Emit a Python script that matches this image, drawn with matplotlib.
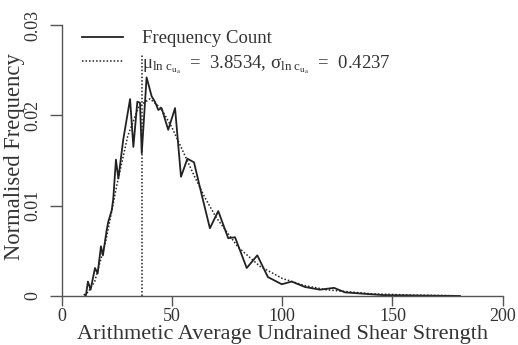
import matplotlib
matplotlib.use("Agg")
import matplotlib.pyplot as plt
from matplotlib.lines import Line2D

plt.rcParams['font.family'] = ['Liberation Serif', 'DejaVu Serif']
plt.rcParams['mathtext.fontset'] = 'custom'
plt.rcParams['mathtext.rm'] = 'Liberation Serif'
plt.rcParams['mathtext.it'] = 'Liberation Serif:italic'
plt.rcParams['mathtext.bf'] = 'Liberation Serif:bold'

# Frequency count
freq_x = [10.6, 11.0, 11.9, 13.1, 15.1, 16.3, 17.8, 18.7, 20.4, 21.1, 22.7, 23.4,
          24.6, 25.7, 27.9, 31.0, 32.5, 34.3, 35.5, 36.3, 38.5, 40.8, 42.3, 43.8,
          45.3, 48.3, 51.4, 54.1, 57.0, 60.0, 63.2, 67.2, 71.0, 75.5, 78.6, 83.9,
          88.7, 93.5, 99.8, 104.3, 110.3, 117.1, 123.5, 128.5, 145.7, 162.5, 180.6]
freq_y = [0.0, 0.0001, 0.0016, 0.0007, 0.0031, 0.0025, 0.0055, 0.0045, 0.0073, 0.0082,
          0.0095, 0.0108, 0.0151, 0.0130, 0.0173, 0.0218, 0.0165, 0.0215, 0.0214, 0.0158,
          0.0242, 0.0221, 0.0215, 0.0206, 0.0208, 0.0184, 0.0208, 0.0132, 0.0152, 0.0148,
          0.0115, 0.0075, 0.0094, 0.0064, 0.0065, 0.0031, 0.0045, 0.0021, 0.0013, 0.0016,
          0.0010, 0.0007, 0.0009, 0.0004, 0.0001, 0.00005, 0.0]

# Fitted lognormal
fit_x = [10, 12, 15, 20, 25, 30, 35, 40, 45, 50, 55, 60, 65, 70, 80, 90, 100,
         110, 120, 140, 160, 180]
fit_y = [0.00012, 0.00043, 0.00163, 0.00607, 0.01227, 0.01776, 0.02100, 0.02183,
         0.02080, 0.01865, 0.01602, 0.01335, 0.01087, 0.00871, 0.00540, 0.00327,
         0.00195, 0.00116, 0.00069, 0.00025, 0.00009, 0.00003]

mode_x = 36.3
mode_top = 0.0267

x_ticks = [0, 50, 100, 150, 200]
y_ticks = [0, 0.01, 0.02, 0.03]
y_tick_labels = ['0', '0.01', '0.02', '0.03']

W, H = 518, 345
fig = plt.figure(figsize=(W / 100, H / 100), dpi=100)
ax = fig.add_axes([0.09782, 0.11586, 0.8940, 0.83785])
ax.set_xlim(-5, 205)
ax.set_ylim(-0.001, 0.031)

ink = '#222222'
ax.plot(freq_x, freq_y, color=ink, lw=1.3, label='Frequency Count')
ax.plot(fit_x, fit_y, color=ink, lw=1.1, ls=(0, (1, 1.3)))
ax.plot([mode_x, mode_x], [0, mode_top], color=ink, lw=1.1, ls=(0, (1, 1.3)))

for s in ['top', 'right']:
    ax.spines[s].set_visible(False)
ax.spines['left'].set_position(('data', 0))
ax.spines['bottom'].set_position(('data', 0))
ax.spines['left'].set_bounds(0, 0.03)
ax.spines['bottom'].set_bounds(0, 200)
for s in ['left', 'bottom']:
    ax.spines[s].set_color('#555555')
    ax.spines[s].set_linewidth(1.0)

ax.set_xticks(x_ticks)
ax.set_xticklabels([str(v) for v in x_ticks])
ax.set_yticks(y_ticks)
ax.set_yticklabels(y_tick_labels, rotation=90, va='center')
ax.tick_params(axis='x', length=7.2, width=1.0, color='#555555', labelsize=13,
               pad=1.5, labelcolor='#333333')
ax.tick_params(axis='y', length=8.4, width=1.0, color='#555555', labelsize=13,
               pad=6, labelcolor='#333333')

ax.set_xlabel('Arithmetic Average Undrained Shear Strength', fontsize=16,
              color='#333333')
ax.xaxis.set_label_coords(0.5, -0.069)
ax.set_ylabel('Normalised Frequency', fontsize=16.3, color='#333333')
ax.yaxis.set_label_coords(-0.055, 0.515)

handles = [Line2D([], [], color=ink, lw=1.3),
           Line2D([], [], color=ink, lw=1.1, ls=(0, (1, 1.3)))]
labels = ['Frequency Count',
          r'$\mathrm{\mu_{ln\ c_{u_a}}}$  =  3.8534, $\mathrm{\sigma_{ln\ c_{u_a}}}$  =  0.4237']
leg = ax.legend(handles, labels, loc='upper left', bbox_to_anchor=(0.067, 0.951),
                frameon=False, fontsize=13.5, handlelength=2.19, handletextpad=1.0,
                borderpad=0, borderaxespad=0, labelspacing=0.3)
for t in leg.get_texts():
    t.set_color('#333333')

fig.savefig('out.png', dpi=100)
